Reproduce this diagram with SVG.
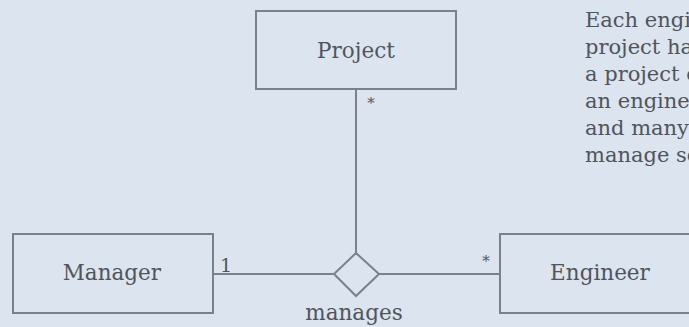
<svg xmlns="http://www.w3.org/2000/svg" width="689" height="327" viewBox="0 0 689 327">
<style>
.bg{fill:#dce4ef}
.box{fill:none;stroke:#7b818b;stroke-width:2}
.ln{fill:none;stroke:#7b818b;stroke-width:2}
text{font-family:"DejaVu Serif","Liberation Serif",serif;fill:#50555d;font-size:21.5px}
.c{text-anchor:middle}
.m{font-size:15px}
.p{font-size:21px}
</style>
<rect class="bg" x="0" y="0" width="689" height="327"/>
<g id="connectors">
<line class="ln" x1="356" y1="89" x2="356" y2="253"/>
<line class="ln" x1="213" y1="274" x2="334" y2="274"/>
<line class="ln" x1="379" y1="274" x2="500" y2="274"/>
<text class="c m" x="371" y="108">*</text>
<text class="c m" x="486" y="266">*</text>
<text class="c" x="226" y="272" style="font-size:19px">1</text>
</g>
<g id="project">
<rect class="box" x="256" y="11" width="200" height="78"/>
<text class="c" x="356" y="58">Project</text>
</g>
<g id="manager">
<rect class="box" x="13" y="234" width="200" height="79"/>
<text class="c" x="112" y="280">Manager</text>
</g>
<g id="engineer">
<rect class="box" x="500" y="234" width="200" height="79"/>
<text class="c" x="600" y="280">Engineer</text>
</g>
<g id="manages">
<polygon class="box" points="356,253 379,274 356,296 334,274" fill="#dce4ef"/>
<text class="c" x="354" y="320">manages</text>
</g>
<g id="note">
<text class="p" x="585" y="27">Each engi</text>
<text class="p" x="585" y="54">project ha</text>
<text class="p" x="585" y="81">a project c</text>
<text class="p" x="585" y="108">an enginee</text>
<text class="p" x="585" y="135">and many</text>
<text class="p" x="585" y="162">manage so</text>
</g>
</svg>
